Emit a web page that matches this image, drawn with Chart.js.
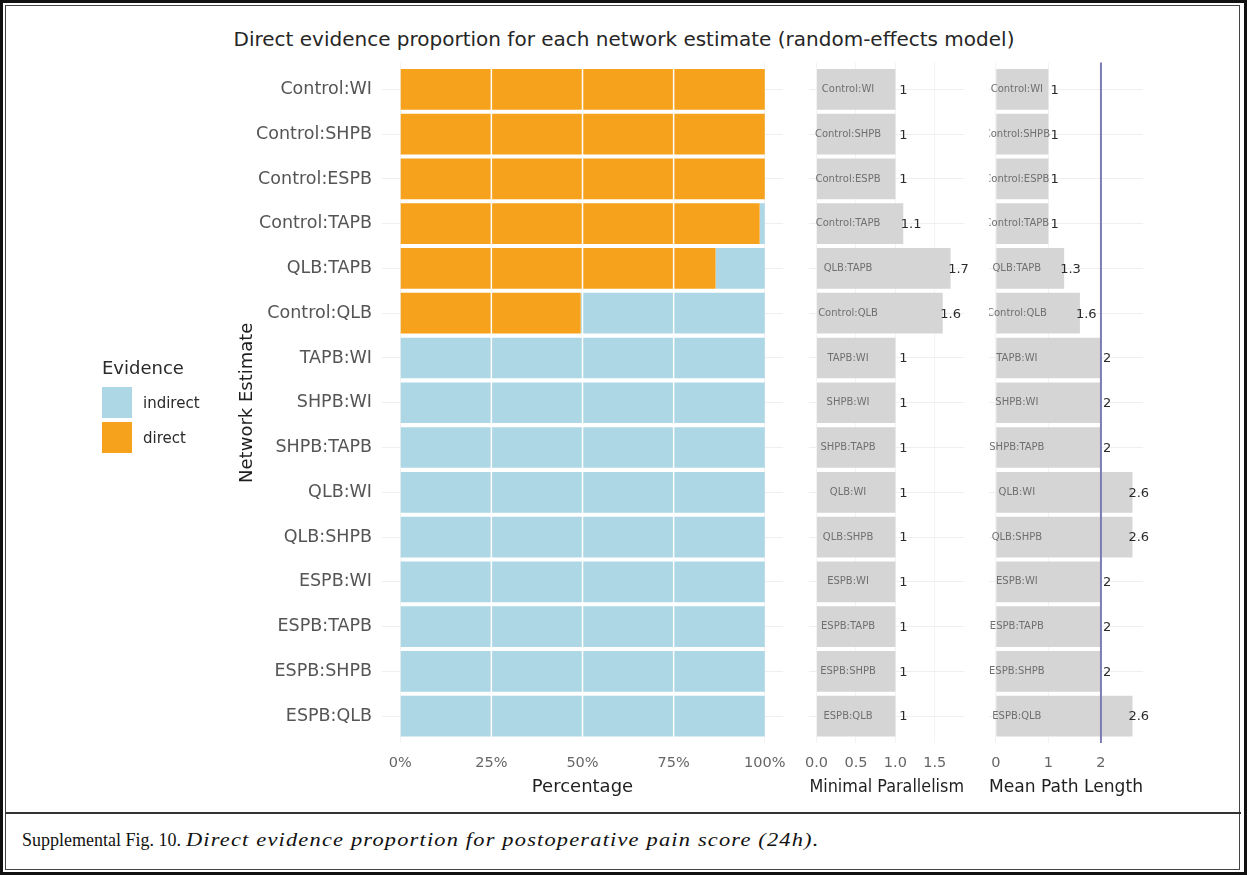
<!DOCTYPE html>
<html>
<head>
<meta charset="utf-8">
<script src="https://cdn.jsdelivr.net/npm/chart.js@4.4.1/dist/chart.umd.min.js"></script>
<style>
  html, body { margin: 0; padding: 0; background: #fff; }
  #page { position: relative; width: 1247px; height: 875px; overflow: hidden; background: #fff; }
  #frameOuter { position: absolute; left: 0; top: 0; width: 1241px; height: 869px; border: 3px solid #111; }
  #frameInner { position: absolute; left: 5px; top: 5px; width: 1233px; height: 863px; border: 1px solid #444; }
  #divider { position: absolute; left: 5px; top: 812px; width: 1236px; height: 2px; background: #333; }
  #title { position: absolute; left: 624px; top: 27px; transform: translateX(-50%); white-space: nowrap;
           font: 20px "DejaVu Sans", sans-serif; color: #262626; }
  #caption { position: absolute; left: 22px; top: 829px; white-space: nowrap;
             font: 18px "Liberation Serif", serif; color: #111; line-height: 22px; }
  #caption i { display: inline-block; font-size: 19px; letter-spacing: 1px;
               transform: scaleX(1.18); transform-origin: left center; }
  canvas { position: absolute; top: 0; }
</style>
</head>
<body>
<div id="page">
  <div id="frameOuter"></div>
  <div id="frameInner"></div>
  <div id="divider"></div>
  <div id="title">Direct evidence proportion for each network estimate (random-effects model)</div>
  <div id="caption">Supplemental Fig. 10. <i>Direct evidence proportion for postoperative pain score (24h).</i></div>
</div>
<script>
// Network comparisons, top to bottom
const comparisons = ['Control:WI', 'Control:SHPB', 'Control:ESPB', 'Control:TAPB', 'QLB:TAPB', 'Control:QLB',
  'TAPB:WI', 'SHPB:WI', 'SHPB:TAPB', 'QLB:WI', 'QLB:SHPB', 'ESPB:WI', 'ESPB:TAPB', 'ESPB:SHPB', 'ESPB:QLB'];

// Proportion of direct / indirect evidence (%)
const directPct   = [100, 100, 100, 98.6, 86.5, 49.5, 0, 0, 0, 0, 0, 0, 0, 0, 0];
const indirectPct = [0, 0, 0, 1.4, 13.5, 50.5, 100, 100, 100, 100, 100, 100, 100, 100, 100];

// Minimal parallelism and mean path length per comparison
const minimalParallelism = [1, 1, 1, 1.1, 1.7, 1.6, 1, 1, 1, 1, 1, 1, 1, 1, 1];
const meanPathLength     = [1, 1, 1, 1, 1.3, 1.6, 2, 2, 2, 2.6, 2.6, 2, 2, 2, 2.6];

// Axis ticks
const pctTicks  = [0, 25, 50, 75, 100];
const parTicks  = [0, 0.5, 1, 1.5];
const pathTicks = [0, 1, 2];
const pathReference = 2;   // reference line on the mean path length panel

const COLORS = { direct: '#F7A21C', indirect: '#ADD7E5', gray: '#D5D5D5', refLine: '#7B7DB4' };
const FONT = '"DejaVu Sans", sans-serif';
const CANVAS_H = 800;

const page = document.getElementById('page');
function makeCanvas(left, width) {
  const c = document.createElement('canvas');
  c.width = width; c.height = CANVAS_H;
  c.style.left = left + 'px';
  c.style.width = width + 'px';
  c.style.height = CANVAS_H + 'px';
  page.appendChild(c);
  return c;
}

const rowPoints = (values) => values.map((v, i) => ({ x: v, y: i }));

// Fixed limits and tick values for a linear scale
function pinScale(min, max, values) {
  return (s) => {
    s.min = min;
    s.max = max;
    s.ticks = values.map(v => ({ value: v }));
  };
}

// Category axis built on a linear scale so the discrete 0.6 expansion is kept
function rowScale(showLabels) {
  const lo = -0.6, hi = comparisons.length - 0.4;
  return {
    type: 'linear',
    reverse: true,
    bounds: 'data',
    offset: false,
    min: lo,
    max: hi,
    afterBuildTicks: pinScale(lo, hi, comparisons.map((_, i) => i)),
    afterFit: (s) => { s.width = showLabels ? 152 : 0; s.paddingTop = 0; s.paddingBottom = 0; },
    border: { display: false },
    grid: { color: '#EFEFEF', lineWidth: 1, drawTicks: false, offset: false },
    title: showLabels ? {
      display: true, text: 'Network Estimate', color: '#1f1f1f',
      font: { family: FONT, size: 18 }, padding: { top: 7, bottom: 0 }
    } : { display: false },
    ticks: {
      display: showLabels,
      autoSkip: false,
      padding: 10,
      color: '#555',
      font: { family: FONT, size: 17.5 },
      callback: (v) => (Number.isInteger(v) && comparisons[v] !== undefined) ? comparisons[v] : ''
    }
  };
}

function valueScale(min, max, ticks, fmt, titleText) {
  return {
    type: 'linear',
    bounds: 'data',
    min: min, max: max,
    stacked: true,
    afterBuildTicks: pinScale(min, max, ticks),
    afterFit: (s) => { s.height = 57.1; s.paddingLeft = 0; s.paddingRight = 0; },
    border: { display: false },
    grid: { color: '#F3F3F3', drawTicks: false },
    ticks: {
      autoSkip: false, maxRotation: 0, padding: 12,
      color: '#666', font: { family: FONT, size: 14.5 },
      callback: fmt
    },
    title: {
      display: true, text: titleText, color: '#1f1f1f',
      font: { family: FONT, size: 18 }, padding: { top: 0, bottom: 2 }
    }
  };
}

const commonOpts = {
  responsive: false,
  devicePixelRatio: 1,
  animation: false,
  indexAxis: 'y',
  events: [],
  plugins: { legend: { display: false }, tooltip: { enabled: false } }
};

// White guide lines drawn over the stacked bars
const overGrid = {
  id: 'overGrid',
  afterDatasetsDraw(chart) {
    const { ctx, chartArea, scales: { x } } = chart;
    ctx.save();
    ctx.strokeStyle = '#ffffff';
    ctx.lineWidth = 1.5;
    pctTicks.filter(t => t > 0 && t < 100).forEach(t => {
      const px = x.getPixelForValue(t);
      ctx.beginPath();
      ctx.moveTo(px, chartArea.top);
      ctx.lineTo(px, chartArea.bottom);
      ctx.stroke();
    });
    ctx.restore();
  }
};

// Evidence legend, built from the dataset colours
const evidenceLegend = {
  id: 'evidenceLegend',
  afterDraw(chart) {
    const ctx = chart.ctx;
    const items = chart.data.datasets.slice().reverse();
    ctx.save();
    ctx.textBaseline = 'middle';
    ctx.textAlign = 'left';
    ctx.fillStyle = '#2a2a2a';
    ctx.font = '18px ' + FONT;
    ctx.fillText('Evidence', 102, 369);
    items.forEach((ds, k) => {
      const top = 387 + k * 35;
      ctx.fillStyle = ds.backgroundColor;
      ctx.fillRect(102, top, 30, 31);
      ctx.fillStyle = '#2a2a2a';
      ctx.font = '15px ' + FONT;
      ctx.fillText(ds.label, 143, top + 17);
    });
    ctx.restore();
  }
};

// Comparison names inside the bars and numeric labels beside them
function barTextPlugin(values, nudge, refValue) {
  return {
    id: 'barText',
    afterDatasetsDraw(chart) {
      const { ctx, chartArea, scales: { x, y } } = chart;
      ctx.save();
      if (refValue !== undefined) {
        const px = x.getPixelForValue(refValue);
        ctx.strokeStyle = COLORS.refLine;
        ctx.lineWidth = 2;
        ctx.beginPath();
        ctx.moveTo(px, chartArea.top);
        ctx.lineTo(px, chartArea.bottom);
        ctx.stroke();
      }
      ctx.textBaseline = 'middle';
      ctx.textAlign = 'center';
      // names (clipped to the panel)
      ctx.save();
      ctx.beginPath();
      ctx.rect(chartArea.left, chartArea.top, chartArea.right - chartArea.left, chartArea.bottom - chartArea.top);
      ctx.clip();
      ctx.fillStyle = '#707070';
      ctx.font = '10px ' + FONT;
      comparisons.forEach((name, i) => {
        ctx.fillText(name, x.getPixelForValue(0.4), y.getPixelForValue(i));
      });
      ctx.restore();
      // values
      ctx.fillStyle = '#2b2b2b';
      ctx.font = '13px ' + FONT;
      values.forEach((v, i) => {
        ctx.fillText(String(v), x.getPixelForValue(v + nudge), y.getPixelForValue(i) + 1);
      });
      ctx.restore();
    }
  };
}

const barStyle = { barPercentage: 0.91, categoryPercentage: 1, borderWidth: 0, stack: 'ev' };

// Panel 1: direct evidence proportion
new Chart(makeCanvas(0, 790), {
  type: 'bar',
  data: {
    datasets: [
      Object.assign({ label: 'direct', data: rowPoints(directPct), backgroundColor: COLORS.direct }, barStyle),
      Object.assign({ label: 'indirect', data: rowPoints(indirectPct), backgroundColor: COLORS.indirect }, barStyle)
    ]
  },
  options: Object.assign({}, commonOpts, {
    layout: { padding: { left: 230, right: 7, top: 62.6, bottom: 0 } },
    scales: {
      x: valueScale(-5, 105, pctTicks, (v) => v + '%', 'Percentage'),
      y: rowScale(true)
    }
  }),
  plugins: [overGrid, evidenceLegend]
});

// Panel 2: minimal parallelism
new Chart(makeCanvas(785, 200), {
  type: 'bar',
  data: {
    datasets: [Object.assign({ label: 'Minimal Parallelism', data: rowPoints(minimalParallelism), backgroundColor: COLORS.gray }, barStyle)]
  },
  options: Object.assign({}, commonOpts, {
    layout: { padding: { left: 24.4, right: 21, top: 62.6, bottom: 0 } },
    scales: {
      x: valueScale(-0.09, 1.87, parTicks, (v) => v.toFixed(1), 'Minimal Parallelism'),
      y: rowScale(false)
    }
  }),
  plugins: [barTextPlugin(minimalParallelism, 0.1)]
});

// Panel 3: mean path length
new Chart(makeCanvas(965, 200), {
  type: 'bar',
  data: {
    datasets: [Object.assign({ label: 'Mean Path Length', data: rowPoints(meanPathLength), backgroundColor: COLORS.gray }, barStyle)]
  },
  options: Object.assign({}, commonOpts, {
    layout: { padding: { left: 24, right: 22, top: 62.6, bottom: 0 } },
    scales: {
      x: valueScale(-0.13, 2.8, pathTicks, (v) => String(v), 'Mean Path Length'),
      y: rowScale(false)
    }
  }),
  plugins: [barTextPlugin(meanPathLength, 0.12, pathReference)]
});
</script>
</body>
</html>
